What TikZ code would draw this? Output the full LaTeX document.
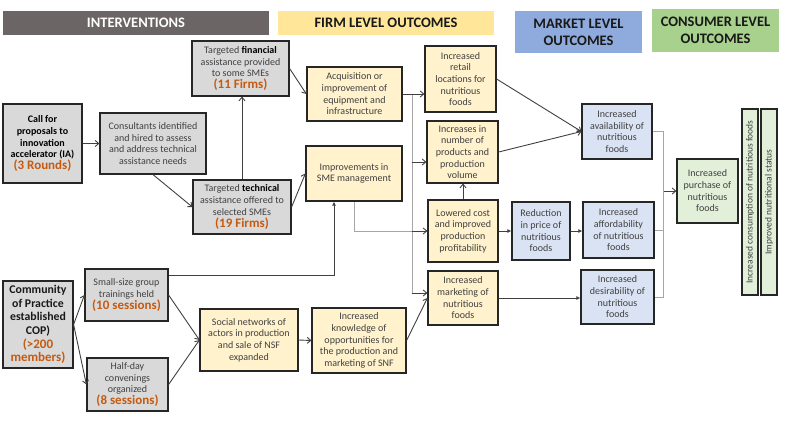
\documentclass[tikz,border=0pt]{standalone}
\usepackage{fontspec}
\setmainfont{Carlito}
\usetikzlibrary{arrows.meta,calc}
\definecolor{hgray}{HTML}{6B6565}
\definecolor{hyel}{HTML}{FFE699}
\definecolor{hblue}{HTML}{8FAADC}
\definecolor{hgreen}{HTML}{A9D18E}
\definecolor{gfill}{HTML}{D9D9D9}
\definecolor{yfill}{HTML}{FFF2CC}
\definecolor{bfill}{HTML}{DAE3F3}
\definecolor{nfill}{HTML}{E2F0D9}
\definecolor{bline}{HTML}{262626}
\definecolor{txt}{HTML}{404040}
\definecolor{orng}{HTML}{C55A11}
\definecolor{cline}{HTML}{404040}
\definecolor{lline}{HTML}{A6A6A6}
\newcommand\ornum[1]{{\fontsize{13}{15}\selectfont\bfseries\color{orng}#1}}
\newcommand\bk[1]{{\bfseries\color{black}#1}}
\begin{document}
\begin{tikzpicture}[x=1pt,y=-1pt,
  box/.style={draw=bline, line width=1.2pt, align=center, inner sep=1pt, text=txt,
    font=\fontsize{10}{11.7}\selectfont},
  sz/.style 2 args={minimum width=#1, minimum height=#2},
  gbox/.style={box, fill=gfill},
  ybox/.style={box, fill=yfill},
  bbox/.style={box, fill=bfill},
  nbox/.style={box, fill=nfill},
  hdr/.style={align=center, inner sep=0pt, font=\fontsize{14.5}{17}\selectfont\bfseries, text=black!90},
  con/.style={draw=cline, line width=0.9pt},
  lcon/.style={draw=lline, line width=0.8pt},
  oarr/.style={-{Straight Barb[length=3.5pt,width=6pt]}},
  farr/.style={-{Latex[length=4pt,width=4pt]}}]
\useasboundingbox (0,0) rectangle (789,421);

% headers
\node[hdr, fill=hgray, text=white, sz={266}{24}] (h1) at (136,23) {INTERVENTIONS};
\node[hdr, fill=hyel, sz={216}{24}] (h2) at (386,23) {FIRM LEVEL OUTCOMES};
\node[hdr, fill=hblue, sz={127}{42}] (h3) at (578.5,32) {MARKET LEVEL\\OUTCOMES};
\node[hdr, fill=hgreen, sz={127}{43}] (h4) at (715.5,30.5) {CONSUMER LEVEL\\OUTCOMES};

% interventions
\node[gbox, sz={97}{55}] (fin) at (240.5,68.5) {Targeted \bk{financial}\\assistance provided\\to some SMEs\\\ornum{(11 Firms)}};
\node[gbox, sz={79}{79}] (call) at (42.5,143.5) {\bk{Call for}\\\bk{proposals to}\\\bk{innovation}\\\bk{accelerator (IA)}\\\ornum{(3 Rounds)}};
\node[gbox, sz={106}{61}] (cons) at (153,143.5) {Consultants identified\\and hired to assess\\and address technical\\assistance needs};
\node[gbox, sz={98}{54}] (tech) at (242,207) {Targeted \bk{technical}\\assistance offered to\\selected SMEs\\\ornum{(19 Firms)}};
\node[gbox, sz={70}{87}, font=\fontsize{11.8}{13.7}\selectfont\bfseries, text=black!90] (comm) at (38,324.5) {Community\\of Practice\\established\\COP)\\\ornum{(>200}\\\ornum{members)}};
\node[gbox, sz={83}{52}] (small) at (126.5,295) {Small-size group\\trainings held\\\ornum{(10 sessions)}};
\node[gbox, sz={81}{53}] (half) at (127.5,384.5) {Half-day\\convenings\\organized\\\ornum{(8 sessions)}};

% firm level
\node[ybox, sz={95}{54}] (acq) at (354.5,94) {Acquisition or\\improvement of\\equipment and\\infrastructure};
\node[ybox, sz={96}{55}] (sme) at (354,173.5) {Improvements in\\SME management};
\node[ybox, sz={71}{66}] (retail) at (460.5,79) {Increased\\retail\\locations for\\nutritious\\foods};
\node[ybox, sz={71}{62}] (incr) at (462.5,152) {Increases in\\number of\\products and\\production\\volume};
\node[ybox, sz={70}{62}] (lower) at (463,231) {Lowered cost\\and improved\\production\\profitability};
\node[ybox, sz={70}{54}] (mkt) at (463,298) {Increased\\marketing of\\nutritious\\foods};
\node[ybox, sz={98}{62}] (social) at (249,340) {Social networks of\\actors in production\\and sale of NSF\\expanded};
\node[ybox, sz={94}{65}] (know) at (359,340.5) {Increased\\knowledge of\\opportunities for\\the production and\\marketing of SNF};

% market level
\node[bbox, sz={70}{55}] (avail) at (617,131.5) {Increased\\availability of\\nutritious\\foods};
\node[bbox, sz={58}{58}] (reduc) at (541,231) {Reduction\\in price of\\nutritious\\foods};
\node[bbox, sz={71}{56}] (afford) at (618.5,230) {Increased\\affordability\\of nutritious\\foods};
\node[bbox, sz={73}{54}] (desir) at (617.5,297) {Increased\\desirability of\\nutritious\\foods};

% consumer level
\node[nbox, sz={61}{64}] (purch) at (707.5,191) {Increased\\purchase of\\nutritious\\foods};
\node[nbox, rotate=90, inner sep=0pt, sz={186}{16}, font=\fontsize{9.5}{11}\selectfont] (consum) at (750,202) {Increased consumption of nutritious foods};
\node[nbox, rotate=90, inner sep=0pt, sz={186}{16}, font=\fontsize{9.5}{11}\selectfont] (status) at (769,202) {Improved nutritional status};

% connectors: interventions
\draw[con,oarr] (call) -- (cons);
\draw[con,oarr] (cons.south) -- (tech.west);
\draw[con,oarr] (tech.north) -- (tech.north |- fin.south);
\draw[con,oarr] (fin.east) -- (acq.west);
\draw[con,oarr] (tech.east) -- (sme.west);
\draw[con,farr] ($(small.north east)+(0,7)$) -| ($(sme.south)+(-20,0)$);
\draw[con,oarr] (comm.east) -- (small.west);
\draw[con,oarr] (comm.east) -- (half.west);
\draw[con,oarr] (small.east) -- (social.west);
\draw[con,oarr] (half.east) -- (social.west);
\draw[con,oarr] (social.east) -- (know.west);
\draw[con,oarr] (know.east) -- (mkt.west);

% trunk from acquisition
\coordinate (tk) at ($(acq.east)!0.43!(acq.east -| retail.west)$);
\coordinate (ik) at ($(incr.west)+(0,10)$);
\coordinate (mk) at ($(mkt.west)+(0,-5)$);
\draw[lcon] (tk) -- (tk |- mk);
\draw[lcon] (sme.south) |- (tk |- lower.west);
\draw[con,oarr] (acq.east) -- (acq.east -| retail.west);
\draw[con,oarr] (tk |- ik) -- (ik);
\draw[con,oarr] (tk |- lower.west) -- (lower.west);
\draw[con,oarr] (tk |- mk) -- (mk);

% firm to market
\draw[con,oarr] (lower.north) -- (lower.north |- incr.south);
\draw[con,farr] (lower.east) -- (reduc.west);
\draw[con,farr] (reduc.east) -- (reduc.east -| afford.west);
\draw[con,farr] (mkt.east) -- (mkt.east -| desir.west);
\draw[con,oarr] (retail.east) -- (avail.west);
\draw[con,oarr] (incr.east) -- (avail.west);

% bracket to purchase
\coordinate (bx) at ($(avail.east)+(11,0)$);
\draw[lcon] (avail.east) -- (bx) -- (bx |- desir.east) -- (desir.east);
\draw[lcon] (afford.east) -- (bx |- afford.east);
\draw[con,oarr] (bx |- purch.west) -- (purch.west);
\end{tikzpicture}
\end{document}
